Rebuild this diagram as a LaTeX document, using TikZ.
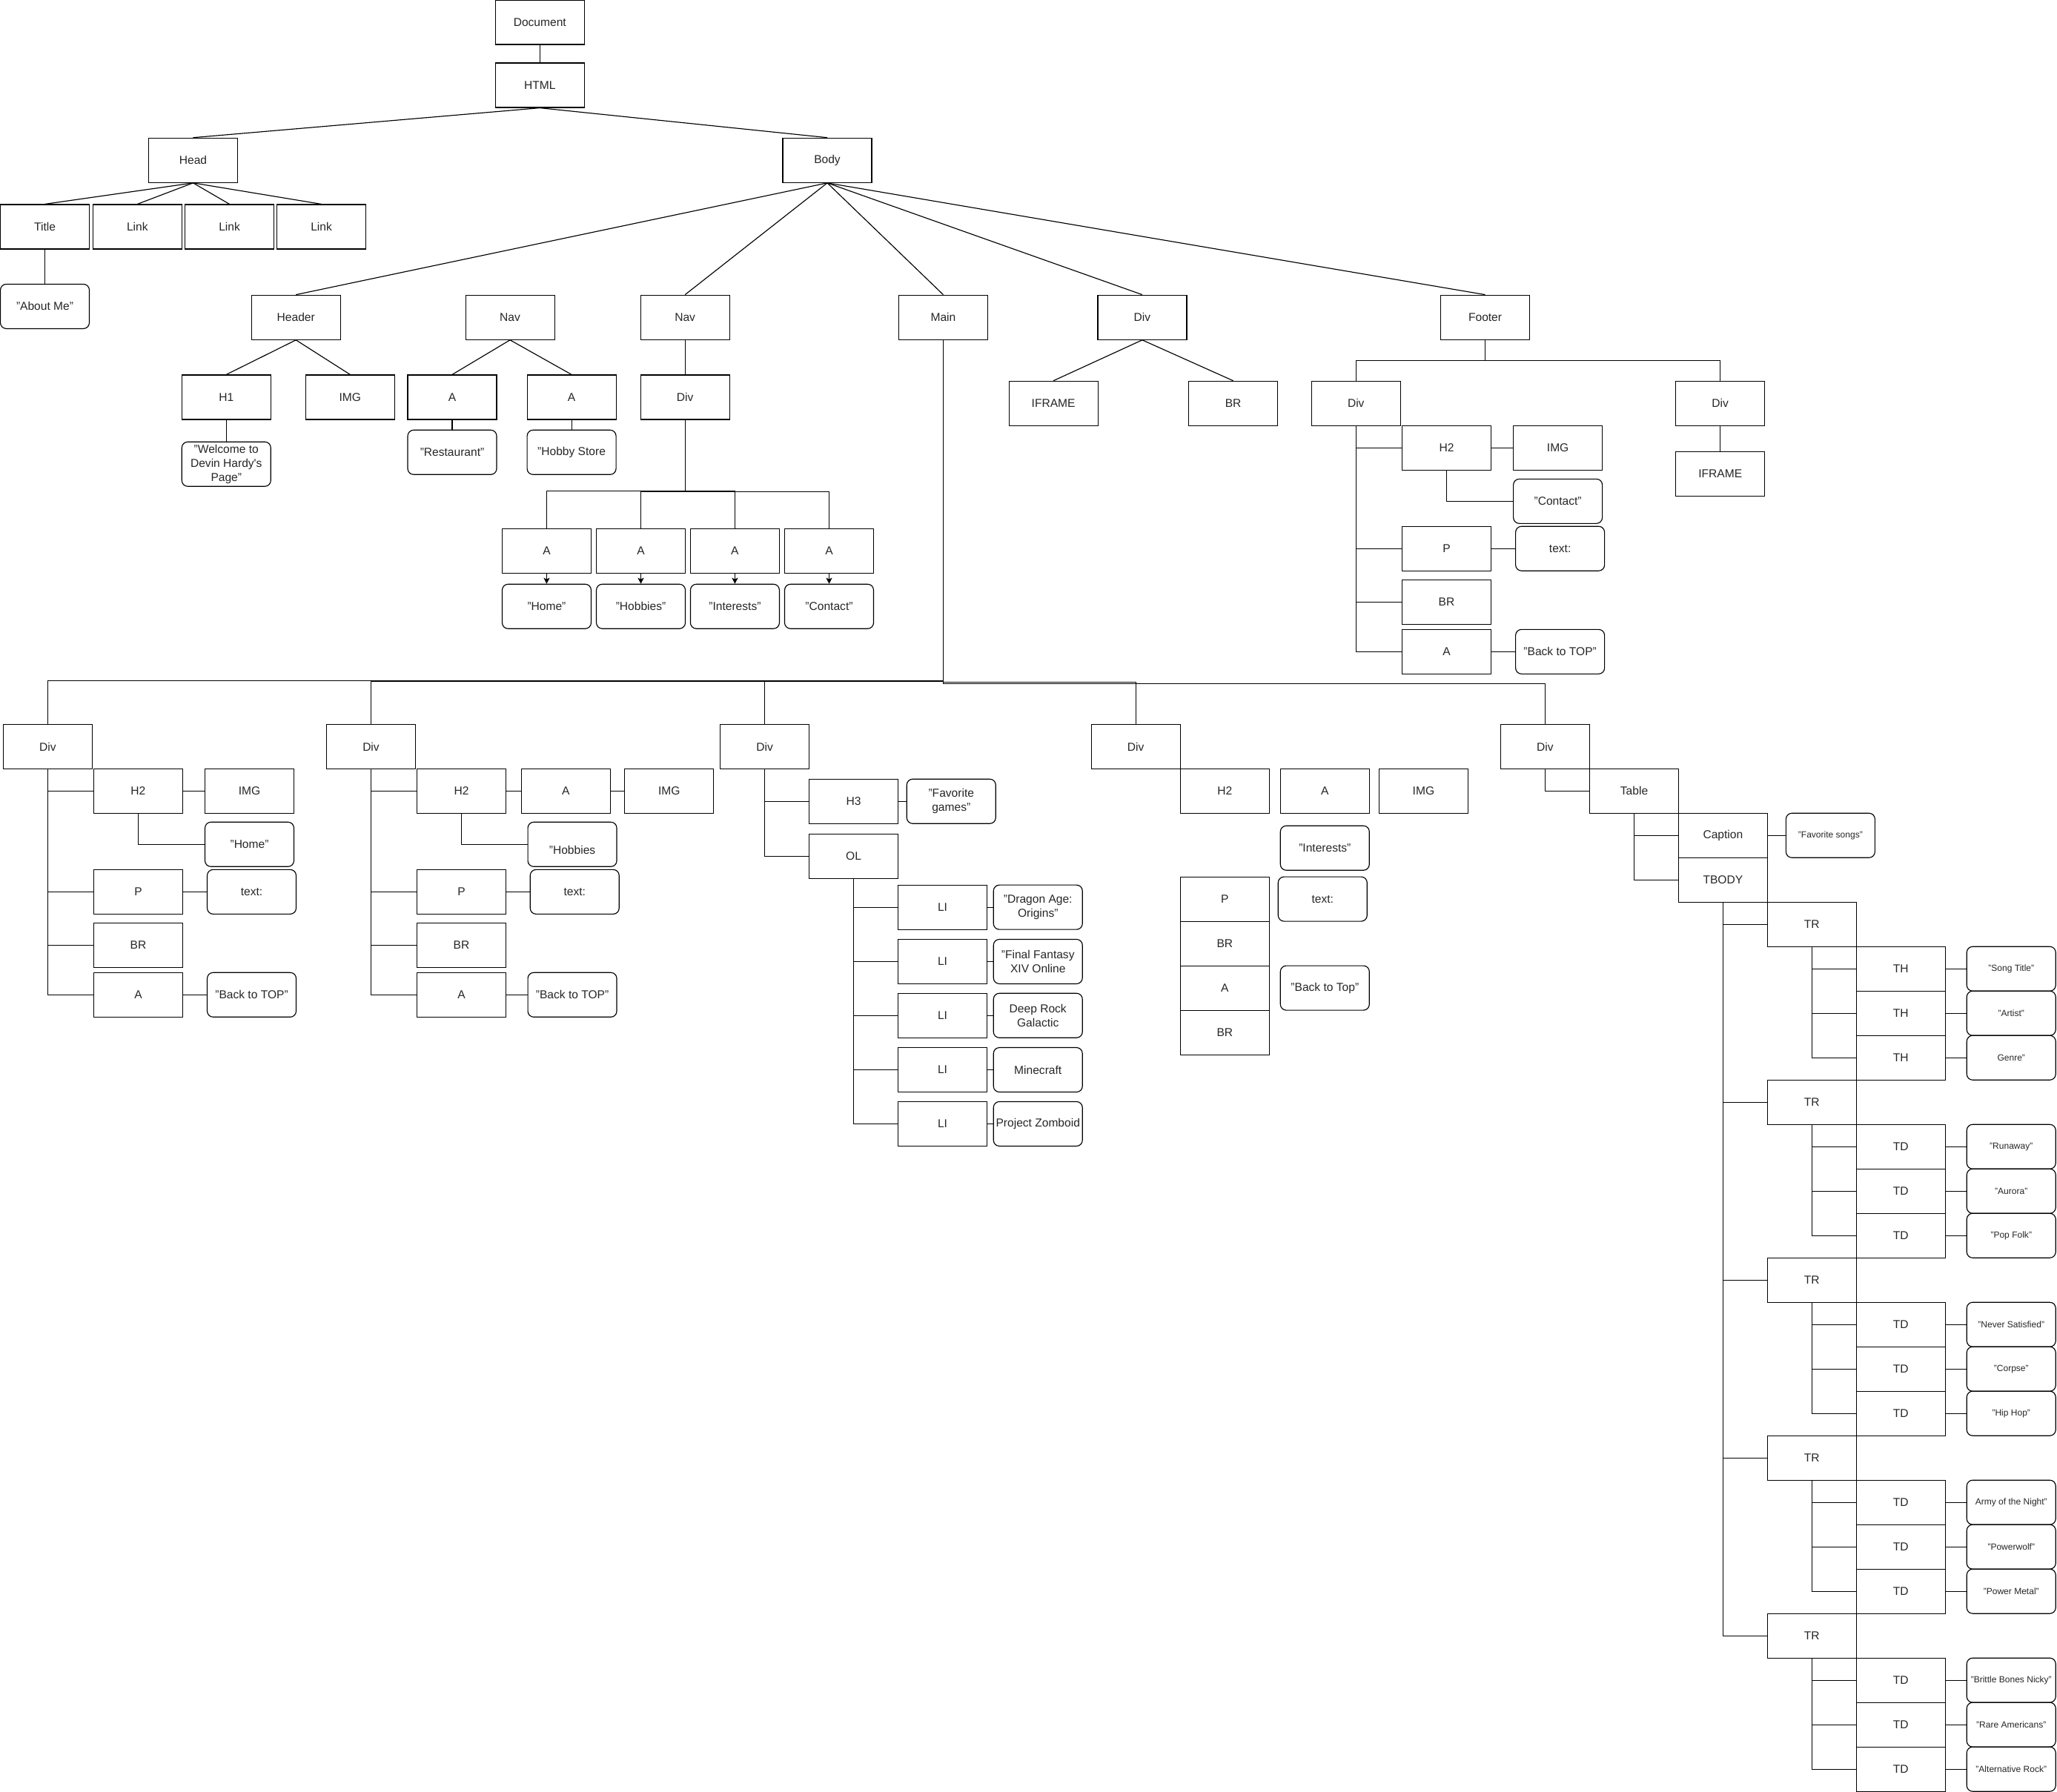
\documentclass[tikz,border=0pt]{standalone}
\usepackage{fontspec}
\setmainfont{Liberation Sans}
\usetikzlibrary{arrows.meta}
\definecolor{ink}{HTML}{262626}

\begin{document}
\begin{tikzpicture}[x=1pt,y=-1pt,
  box/.style={draw=black, line width=0.65pt, rectangle, minimum width=67.8pt,
    minimum height=33.9pt, inner sep=0pt, align=center, text=ink,
    font=\fontsize{8.8}{10.7}\selectfont},
  leaf/.style={box, rounded corners=4.5pt},
  small/.style={font=\fontsize{6.8}{8.2}\selectfont},
  wire/.style={draw=black, line width=0.65pt},
  pointer/.style={wire, -{Stealth[length=4.5pt,width=4.6pt,inset=1pt]}}
]
\useasboundingbox (0,0) rectangle (1568,1366);

% ---------- document root and head ----------
\node[box] (doc) at (411.5,16.95) {Document};
\node[box] (html) at (411.5,65) {HTML};
\node[box] (head) at (147.2,122.2) {Head};
\node[box] (body) at (630.6,122.2) {Body};
\node[box] (title) at (34.2,172.9) {Title};
\node[box] (link1) at (104.7,172.9) {Link};
\node[box] (link2) at (174.9,172.9) {Link};
\node[box] (link3) at (245,172.9) {Link};
\node[leaf] (aboutme) at (34.2,233.6) {"About Me"};

\draw[wire] (doc) -- (html);
\draw[wire] (html.south) -- (head.north);
\draw[wire] (html.south) -- (body.north);
\foreach \n in {title,link1,link2,link3}
  \draw[wire] (head.south) -- (\n.north);
\draw[wire] (title) -- (aboutme);

% ---------- body children ----------
\node[box] (header) at (225.6,241.95) {Header};
\node[box] (nava) at (388.8,241.95) {Nav};
\node[box] (navb) at (522.2,241.95) {Nav};
\node[box] (main) at (719,241.95) {Main};
\node[box] (bdiv) at (870.7,241.95) {Div};
\node[box] (footer) at (1132.1,241.95) {Footer};
\foreach \n in {header,navb,main,bdiv,footer}
  \draw[wire] (body.south) -- (\n.north);

% header
\node[box] (hone) at (172.5,302.85) {H1};
\node[box] (himg) at (266.9,302.85) {IMG};
\node[leaf] (welcome) at (172.5,353.85) {"Welcome to\\Devin Hardy\textquotesingle s\\Page"};
\draw[wire] (header.south) -- (hone.north);
\draw[wire] (header.south) -- (himg.north);
\draw[wire] (hone) -- (welcome);

% first nav
\node[box] (naa) at (344.7,302.85) {A};
\node[box] (nab) at (435.7,302.85) {A};
\node[leaf] (rest) at (344.7,344.85) {"Restaurant"};
\node[leaf] (hobbystore) at (435.7,344.85) {"Hobby Store};
\draw[wire] (nava.south) -- (naa.north);
\draw[wire] (nava.south) -- (nab.north);
\draw[wire] (naa) -- (rest);
\draw[wire] (nab) -- (hobbystore);

% second nav
\node[box] (ndiv) at (522.2,302.85) {Div};
\draw[wire] (navb) -- (ndiv);
\foreach \n/\x/\d/\t in {nla/416.7/54.2/{"Home"}, nlb/488.5/55/{"Hobbies"},
                         nlc/560.2/54.2/{"Interests"}, nld/632.0/55/{"Contact"}}{
  \node[box] (\n) at (\x,420.05) {A};
  \node[leaf] (\n txt) at (\x,462.35) {\t};
  \draw[wire] (ndiv.south) -- ++(0,\d) -| (\n.north);
  \draw[pointer] (\n) -- (\n txt);
}

% div with iframe
\node[box] (biframe) at (803,307.55) {IFRAME};
\node[box] (bbr) at (940,307.55) {BR};
\draw[wire] (bdiv.south) -- (biframe.north);
\draw[wire] (bdiv.south) -- (bbr.north);

% footer
\node[box] (fdiva) at (1033.6,307.55) {Div};
\node[box] (fdivb) at (1311.3,307.55) {Div};
\node[box] (fiframe) at (1311.3,361.25) {IFRAME};
\draw[wire] (footer.south) -- ++(0,15.8) -| (fdiva.north);
\draw[wire] (footer.south) -- ++(0,15.8) -| (fdivb.north);
\draw[wire] (fdivb) -- (fiframe);
\node[box] (fh) at (1102.7,341.45) {H2};
\node[box] (fimg) at (1187.5,341.45) {IMG};
\node[leaf] (fcontact) at (1187.5,382.15) {"Contact"};
\node[box] (fp) at (1102.7,418.25) {P};
\node[leaf] (ftext) at (1189.2,418.25) {text:};
\node[box] (fbr) at (1102.7,458.95) {BR};
\node[box] (fa) at (1102.7,496.85) {A};
\node[leaf] (fbtt) at (1189.2,496.85) {"Back to TOP"};
\foreach \n in {fh,fp,fbr,fa}
  \draw[wire] (fdiva.south) |- (\n.west);
\draw[wire] (fh.east) -- (fimg.west);
\draw[wire] (fh.south) |- (fcontact.west);
\draw[wire] (fp.east) -- (ftext.west);
\draw[wire] (fa.east) -- (fbtt.west);

% ---------- main and its divs ----------
\node[box] (mdiva) at (36.4,569.25) {Div};
\node[box] (mdivb) at (282.8,569.25) {Div};
\node[box] (mdivc) at (582.9,569.25) {Div};
\node[box] (mdivd) at (865.7,569.25) {Div};
\node[box] (mdive) at (1177.8,569.25) {Div};
\draw[wire] (main.south) -- ++(0,259.7) -| (mdiva.north);
\draw[wire] (main.south) -- ++(0,260.4) -| (mdivb.north);
\draw[wire] (main.south) -- ++(0,260.4) -| (mdivc.north);
\draw[wire] (main.south) -- ++(0,261.1) -| (mdivd.north);
\draw[wire] (main.south) -- ++(0,262.2) -| (mdive.north);

% first div
\node[box] (ah) at (105.35,603.05) {H2};
\node[box] (aimg) at (190.15,603.05) {IMG};
\node[leaf] (ahome) at (190.15,643.75) {"Home"};
\node[box] (ap) at (105.35,679.95) {P};
\node[leaf] (atext) at (191.85,679.95) {text:};
\node[box] (abr) at (105.35,720.55) {BR};
\node[box] (aa) at (105.35,758.45) {A};
\node[leaf] (abtt) at (191.85,758.45) {"Back to TOP"};
\foreach \n in {ah,ap,abr,aa}
  \draw[wire] (mdiva.south) |- (\n.west);
\draw[wire] (ah.east) -- (aimg.west);
\draw[wire] (ah.south) |- (ahome.west);
\draw[wire] (ap.east) -- (atext.west);
\draw[wire] (aa.east) -- (abtt.west);

% second div
\node[box] (bh) at (351.75,603.05) {H2};
\node[box] (ba) at (431.35,603.05) {A};
\node[box] (bimg) at (510.1,603.05) {IMG};
\node[leaf] (bhob) at (436.25,643.75) {\strut\\\strut"Hobbies};
\node[box] (bp) at (351.75,679.95) {P};
\node[leaf] (btext) at (438.05,679.95) {text:};
\node[box] (bbrk) at (351.75,720.55) {BR};
\node[box] (baa) at (351.75,758.45) {A};
\node[leaf] (bbtt) at (436.25,758.45) {"Back to TOP"};
\foreach \n in {bh,bp,bbrk,baa}
  \draw[wire] (mdivb.south) |- (\n.west);
\draw[wire] (bh.east) -- (ba.west);
\draw[wire] (ba.east) -- (bimg.west);
\draw[wire] (bh.south) |- (bhob.west);
\draw[wire] (bp.east) -- (btext.west);
\draw[wire] (baa.east) -- (bbtt.west);

% third div: games list
\node[box] (ch) at (650.7,610.95) {H3};
\node[leaf] (cfav) at (725.1,610.95) {"Favorite\\games"};
\node[box] (col) at (650.7,652.8) {OL};
\draw[wire] (mdivc.south) |- (ch.west);
\draw[wire] (mdivc.south) |- (col.west);
\draw[wire] (ch.east) -- (cfav.west);
\foreach \k/\y/\t in {1/691.7/{"Dragon Age:\\Origins"}, 2/733.1/{"Final Fantasy\\XIV Online},
                      3/774.25/{Deep Rock\\Galactic}, 4/815.65/{Minecraft},
                      5/856.85/{Project Zomboid}}{
  \node[box] (li\k) at (718.45,\y) {LI};
  \node[leaf] (game\k) at (791.2,\y) {\t};
  \draw[wire] (col.south) |- (li\k.west);
  \draw[wire] (li\k.east) -- (game\k.west);
}

% fourth div
\node[box] (dh) at (933.65,602.95) {H2};
\node[box] (dlink) at (1009.9,602.95) {A};
\node[box] (dimg) at (1085.1,602.95) {IMG};
\node[leaf] (dint) at (1009.9,646.55) {"Interests"};
\node[box] (dp) at (933.65,685.45) {P};
\node[leaf] (dtext) at (1008.2,685.45) {text:};
\node[box] (dbr) at (933.65,719.35) {BR};
\node[box] (danchor) at (933.65,753.25) {A};
\node[leaf] (dbtt) at (1009.9,753.25) {"Back to Top"};
\node[box] (dbrb) at (933.65,787.25) {BR};

% fifth div: table
\node[box] (table) at (1245.65,603.05) {Table};
\node[box] (caption) at (1313.35,636.95) {Caption};
\node[box] (tbody) at (1313.35,670.85) {TBODY};
\node[leaf,small] (favsongs) at (1395.3,636.95) {"Favorite songs"};
\draw[wire] (mdive.south) |- (table.west);
\draw[wire] (table.south) |- (caption.west);
\draw[wire] (table.south) |- (tbody.west);
\draw[wire] (caption.east) -- (favsongs.west);

\foreach \i/\cell/\ta/\tb/\tc in {
  1/TH/{"Song Title"}/{"Artist"}/{Genre"},
  2/TD/{"Runaway"}/{"Aurora"}/{"Pop Folk"},
  3/TD/{"Never Satisfied"}/{"Corpse"}/{"Hip Hop"},
  4/TD/{Army of the Night"}/{"Powerwolf"}/{"Power Metal"},
  5/TD/{"Brittle Bones Nicky"}/{"Rare Americans"}/{"Alternative Rock"}}{
  \pgfmathsetmacro\rowtop{687.8+135.6*(\i-1)}
  \node[box] (tr\i) at (1381.1,\rowtop+16.95) {TR};
  \node[box] (cell\i-1) at (1448.9,\rowtop+50.85) {\cell};
  \node[box] (cell\i-2) at (1448.9,\rowtop+84.75) {\cell};
  \node[box] (cell\i-3) at (1448.9,\rowtop+118.65) {\cell};
  \node[leaf,small] (val\i-1) at (1533.1,\rowtop+50.85) {\ta};
  \node[leaf,small] (val\i-2) at (1533.1,\rowtop+84.75) {\tb};
  \node[leaf,small] (val\i-3) at (1533.1,\rowtop+118.65) {\tc};
  \draw[wire] (tbody.south) |- (tr\i.west);
  \foreach \j in {1,2,3}{
    \draw[wire] (tr\i.south) |- (cell\i-\j.west);
    \draw[wire] (cell\i-\j.east) -- (val\i-\j.west);
  }
}
\end{tikzpicture}
\end{document}
